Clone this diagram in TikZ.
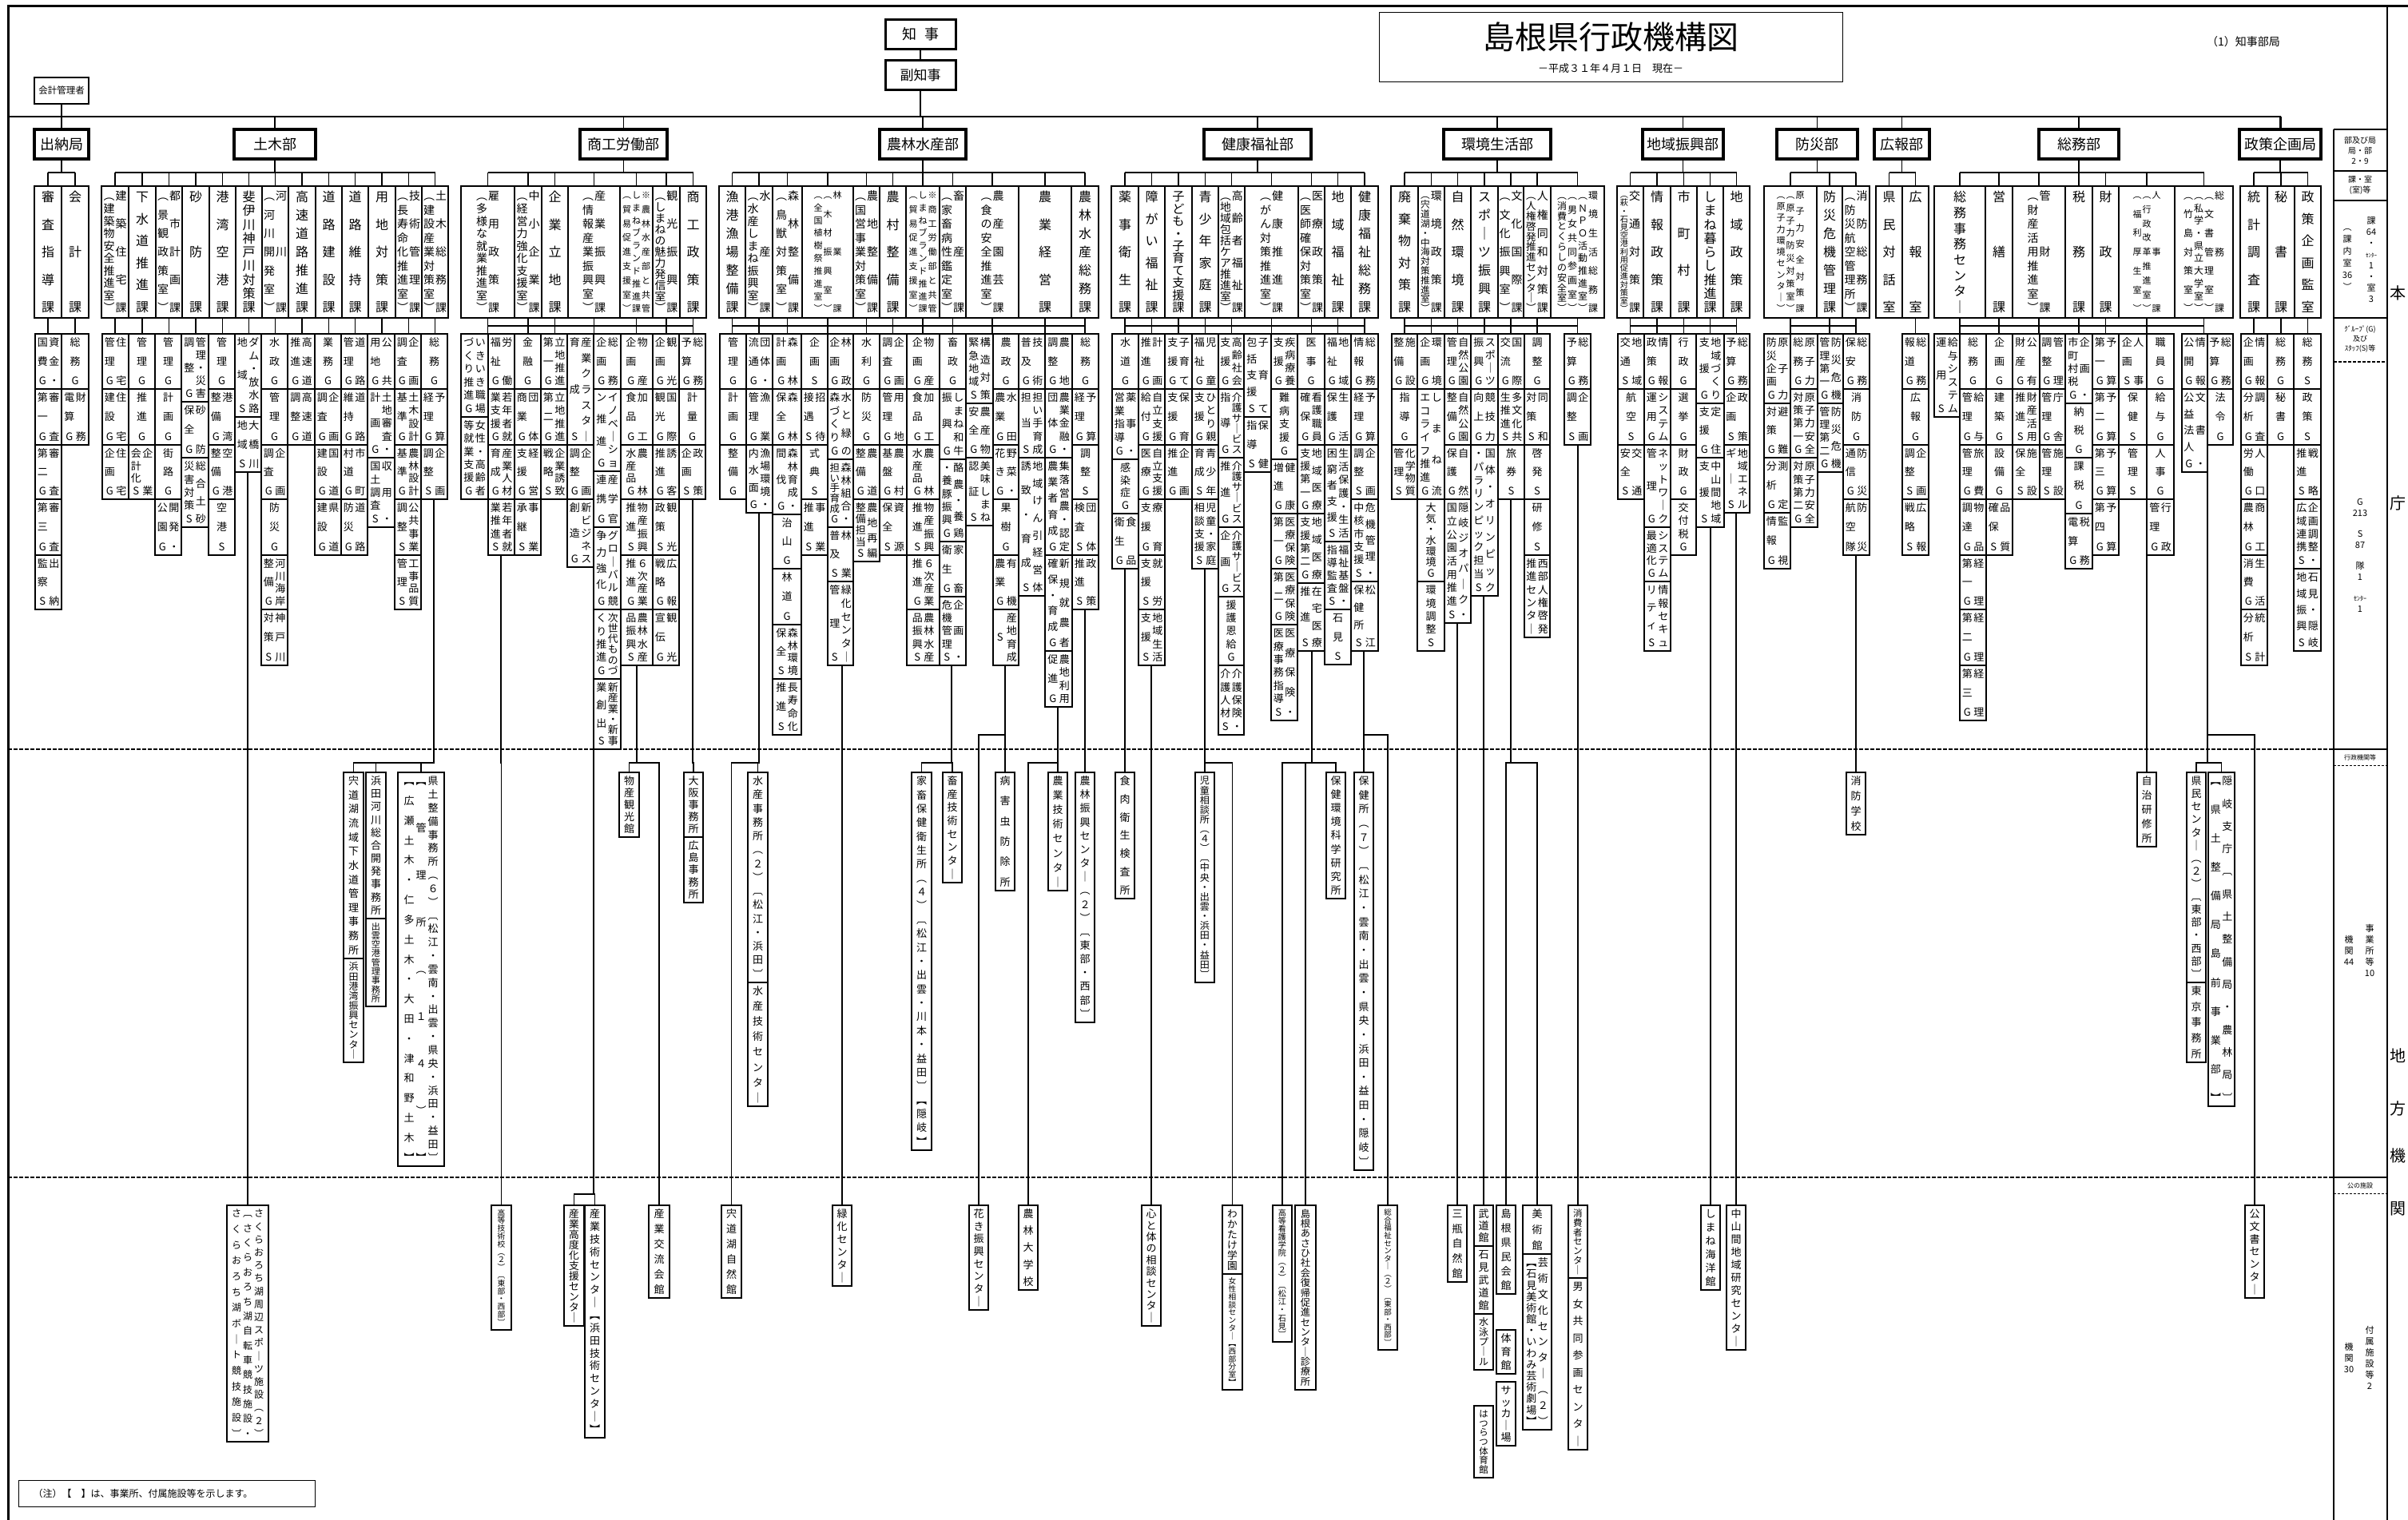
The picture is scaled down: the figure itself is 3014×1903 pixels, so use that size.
\documentclass[tikz,border=0pt]{standalone}
\usepackage{fontspec}
\setmainfont{Noto Sans CJK JP}
\newcount\vcn
\newdimen\vcH
\newdimen\vfs
\def\vsE{vsE-end-marker}
\def\vcx#1{\ifx\vsE#1\else\advance\vcn1 \expandafter\vcx\fi}
\def\vdx#1{\ifx\vsE#1\else\vdsep\hbox to\vfs{\hss\vrule height.88\vfs depth.12\vfs width0pt\relax#1\hss}\let\vdsep\vfill\expandafter\vdx\fi}
\newcommand\vcol[2]{%
 \vcn=0 \vcx#2\vsE
 \ifnum\vcn<1 \vcn=1 \fi
 \vfs=\dimexpr\vcH/\vcn\relax
 \ifdim\vfs>#1pt \vfs=#1pt\fi
 \vbox to\vcH{\offinterlineskip\fontsize{\the\vfs}{\the\vfs}\selectfont
   \ifnum\vcn=1 \vfil\fi
   \let\vdsep\relax\vdx#2\vsE
   \ifnum\vcn=1 \vfil\fi}}
\newcommand\gtwo[3]{\hbox{\ifx\relax#3\relax\else\vcol{#1}{#3}\kern1.5pt\fi\vcol{#1}{#2}}}
\newcommand\kA[1]{\vcol{16}{#1}}
\newcommand\kB[2]{\hbox{\vcol{14}{#2}\kern1pt\vcol{14}{#1}}}
\newcommand\kC[3]{\hbox{\vcol{11}{#3}\kern1pt\vcol{11}{#2}\kern1pt\vcol{11}{#1}}}
\newcommand\kD[4]{\hbox{\vcol{12}{#4}\kern1pt\vcol{12}{#3}\kern1pt\vcol{12}{#2}\kern1pt\vcol{12}{#1}}}
\newcounter{gn}
\newcommand\gcol[2]{\def\gxa{#1}\def\gxb{#2}}
\newcommand\grpx[3]{\stepcounter{gn}\node[gbox,minimum width={\gxb-\gxa},minimum height={#2-#1}] (g\thegn) at ({(\gxa+\gxb)/2},{(#1+#2)/2}) {\vcH=\dimexpr#2pt-#1pt-10pt\relax#3};}
\newcommand\grp[4]{\grpx{#1}{#2}{\gtwo{13}{#3}{#4}}}
\newcommand\kbx[4]{\node[kbox,minimum width={#3-#2}] (#1) at ({(#2+#3)/2},315.5) {\vcH=152pt\relax#4};}
\newcommand\secc[4]{\draw[ln] (#1,199) -- (#1,216); \draw[ln] (#2,216) -- (#3,216); \foreach \x in {#4} {\draw[ln] (\x,216) -- (\x,233);}}
\newcommand\grc[3]{\draw[ln] (#1,408) -- (#2,408); \foreach \x in {#3} {\draw[ln] (\x,398) -- (\x,418);}}
\newcommand\lk[5]{\draw[ln] (#1,#2) |- (#4,#3) -- (#4,#5);}
\begin{document}
\begin{tikzpicture}[x=1pt,y=-1pt,
  ln/.style={line width=1.4pt},
  gbox/.style={draw,line width=1.5pt,inner sep=0pt,rectangle},
  kbox/.style={draw,line width=1.8pt,inner sep=0pt,rectangle,minimum height=165pt},
  dbox/.style={draw,line width=3.5pt,inner sep=0pt,rectangle,minimum height=37pt,font=\fontsize{18}{18}\selectfont},
  sb/.style={inner sep=0pt,align=center,font=\fontsize{10}{13}\selectfont}]
\useasboundingbox (0,0) rectangle (3014,1903);
% frame
\draw[line width=3pt] (10,1903) -- (10,7) -- (3014,7);
\draw[line width=2.5pt] (2988,7) -- (2988,1903);
% top
\node[draw,line width=3pt,minimum width=88pt,minimum height=37pt,inner sep=0pt,font=\fontsize{18}{18}\selectfont] (chiji) at (1152,43) {知\hspace{10pt}事};
\node[draw,line width=3pt,minimum width=88pt,minimum height=37pt,inner sep=0pt,font=\fontsize{17}{17}\selectfont] (fuku) at (1152,94) {副知事};
\draw[ln] (chiji.south) -- (fuku.north);
\draw[line width=1.6pt] (fuku.south) -- (1152,146);
\node[draw,line width=1pt,minimum width=580pt,minimum height=87pt] (tbox) at (2016,58.5) {};
\node[font=\fontsize{40}{40}\selectfont] (title) at (2016,46) {島根県行政機構図};
\node[font=\fontsize{13}{13}\selectfont] (subt) at (2016,86) {－平成３１年４月１日　現在－};
\node[font=\fontsize{14}{14}\selectfont] (bukyoku) at (2808,52) {（1）知事部局};
\node[draw,line width=1.8pt,minimum width=68pt,minimum height=33pt,inner sep=0pt,font=\fontsize{11.5}{12}\selectfont] (kaikei) at (77,113.5) {会計管理者};
\draw[line width=2.2pt] (10,146) -- (2855,146);
\draw[ln] (kaikei.south) -- (77,162);
% departments
\node[dbox,minimum width=68pt] (d0) at (77,180.5) {出納局};
\node[dbox,minimum width=102pt] (d1) at (344,180.5) {土木部};
\node[dbox,minimum width=109pt] (d2) at (780.5,180.5) {商工労働部};
\node[dbox,minimum width=108pt] (d3) at (1155,180.5) {農林水産部};
\node[dbox,minimum width=134pt] (d4) at (1574,180.5) {健康福祉部};
\node[dbox,minimum width=134pt] (d5) at (1874,180.5) {環境生活部};
\node[dbox,minimum width=101pt] (d6) at (2106.5,180.5) {地域振興部};
\node[dbox,minimum width=101pt] (d7) at (2274.5,180.5) {防災部};
\node[dbox,minimum width=69pt] (d8) at (2380.5,180.5) {広報部};
\node[dbox,minimum width=100pt] (d9) at (2602,180.5) {総務部};
\node[dbox,minimum width=102pt] (d10) at (2854,180.5) {政策企画局};
\foreach \x in {344,780.5,1155,1574,1874,2106.5,2274.5,2380.5,2602,2854} {\draw[ln] (\x,146) -- (\x,162);}
\draw[ln] (2855,146) -- (2855,162);
% section connectors
\secc{77}{60}{94}{60,94}
\secc{344}{144}{544.5}{144,178,211.5,245,278.5,311.5,344.5,378,411.5,444.5,478,511.5,544.5}
\secc{780.5}{610.5}{867.5}{610.5,661,694.5,743.5,796.5,834,867.5}
\secc{1155}{916.5}{1358}{916.5,950,985.5,1036,1084.5,1117.5,1155,1192.5,1242,1308,1358}
\secc{1574}{1408}{1708}{1408,1441.5,1475,1508.5,1541.5,1591.5,1641.5,1674.5,1708}
\secc{1874}{1758}{1974.5}{1758,1791.5,1824.5,1858,1891,1924,1974.5}
\secc{2106.5}{2040.5}{2173.5}{2040.5,2074,2107.5,2140.5,2173.5}
\secc{2274.5}{2241}{2323}{2241,2290,2323}
\secc{2380.5}{2364.5}{2397.5}{2364.5,2397.5}
\secc{2602}{2453}{2758.5}{2453,2502,2552,2602,2635.5,2687,2758.5}
\secc{2854}{2821}{2888.5}{2821,2855,2888.5}
% sections
\kbx{k1}{43}{77}{\kA{審査指導課}}
\kbx{k2}{77}{111}{\kA{会計課}}
\kbx{k3}{127}{161}{\kB{建築住宅課}{︵建築物安全推進室︶}}
\kbx{k4}{161}{195}{\kA{下水道推進課}}
\kbx{k5}{195}{228}{\kB{都市計画課}{︵景観政策室︶}}
\kbx{k6}{228}{262}{\kA{砂防課}}
\kbx{k7}{262}{295}{\kA{港湾空港課}}
\kbx{k8}{295}{328}{\kA{斐伊川神戸川対策課}}
\kbx{k9}{328}{361}{\kB{河川課}{︵河川開発室︶}}
\kbx{k10}{361}{395}{\kA{高速道路推進課}}
\kbx{k11}{395}{428}{\kA{道路建設課}}
\kbx{k12}{428}{461}{\kA{道路維持課}}
\kbx{k13}{461}{495}{\kA{用地対策課}}
\kbx{k14}{495}{528}{\kB{技術管理課}{︵長寿命化推進室︶}}
\kbx{k15}{528}{561}{\kB{土木総務課}{︵建設産業対策室︶}}
\kbx{k16}{577}{644}{\kB{雇用政策課}{︵多様な就業推進室︶}}
\kbx{k17}{644}{678}{\kB{中小企業課}{︵経営力強化支援室︶}}
\kbx{k18}{678}{711}{\kA{企業立地課}}
\kbx{k19}{711}{776}{\kB{産業振興課}{︵情報産業振興室︶}}
\kbx{k20}{776}{817}{\kC{※農林水産部と共管}{しまねブランド推進課}{︵貿易促進支援室︶}}
\kbx{k21}{817}{851}{\kB{観光振興課}{︵しまねの魅力発信室︶}}
\kbx{k22}{851}{884}{\kA{商工政策課}}
\kbx{k23}{900}{933}{\kA{漁港漁場整備課}}
\kbx{k24}{933}{967}{\kB{水産課}{︵水産しまね振興室︶}}
\kbx{k25}{967}{1004}{\kB{森林整備課}{︵鳥獣対策室︶}}
\kbx{k26}{1004}{1068}{\kC{林業課}{︵木材振興室︶}{︵全国植樹祭推進室︶}}
\kbx{k27}{1068}{1101}{\kB{農地整備課}{︵国営事業対策室︶}}
\kbx{k28}{1101}{1134}{\kA{農村整備課}}
\kbx{k29}{1134}{1176}{\kC{※商工労働部と共管}{しまねブランド推進課}{︵貿易促進支援室︶}}
\kbx{k30}{1176}{1209}{\kB{畜産課}{︵家畜病性鑑定室︶}}
\kbx{k31}{1209}{1275}{\kB{農産園芸課}{︵食の安全推進室︶}}
\kbx{k32}{1275}{1341}{\kA{農業経営課}}
\kbx{k33}{1341}{1375}{\kA{農林水産総務課}}
\kbx{k34}{1391}{1425}{\kA{薬事衛生課}}
\kbx{k35}{1425}{1458}{\kA{障がい福祉課}}
\kbx{k36}{1458}{1492}{\kA{子ども・子育て支援課}}
\kbx{k37}{1492}{1525}{\kA{青少年家庭課}}
\kbx{k38}{1525}{1558}{\kB{高齢者福祉課}{︵地域包括ケア推進室︶}}
\kbx{k39}{1558}{1625}{\kB{健康推進課}{︵がん対策推進室︶}}
\kbx{k40}{1625}{1658}{\kB{医療政策課}{︵医師確保対策室︶}}
\kbx{k41}{1658}{1691}{\kA{地域福祉課}}
\kbx{k42}{1691}{1725}{\kA{健康福祉総務課}}
\kbx{k43}{1741}{1775}{\kA{廃棄物対策課}}
\kbx{k44}{1775}{1808}{\kB{環境政策課}{︵宍道湖・中海対策推進室︶}}
\kbx{k45}{1808}{1841}{\kA{自然環境課}}
\kbx{k46}{1841}{1875}{\kA{スポ｜ツ振興課}}
\kbx{k47}{1875}{1907}{\kB{文化国際課}{︵文化振興室︶}}
\kbx{k48}{1907}{1941}{\kB{人権同和対策課}{︵人権啓発推進センタ｜︶}}
\kbx{k49}{1941}{2008}{\kD{環境生活総務課}{︵ＮＰＯ活動推進室︶}{︵男女共同参画室︶}{︵消費とくらしの安全室︶}}
\kbx{k50}{2024}{2057}{\kB{交通対策課}{︵萩・石見空港利用促進対策室︶}}
\kbx{k51}{2057}{2091}{\kA{情報政策課}}
\kbx{k52}{2091}{2124}{\kA{市町村課}}
\kbx{k53}{2124}{2157}{\kA{しまね暮らし推進課}}
\kbx{k54}{2157}{2190}{\kA{地域政策課}}
\kbx{k55}{2208}{2274}{\kC{原子力安全対策課}{︵原子力防災対策室︶}{︵原子力環境センタ｜︶}}
\kbx{k56}{2274}{2306}{\kA{防災危機管理課}}
\kbx{k57}{2306}{2340}{\kB{消防総務課}{︵防災航空管理所︶}}
\kbx{k58}{2348}{2381}{\kA{県民対話室}}
\kbx{k59}{2381}{2414}{\kA{広報室}}
\kbx{k60}{2421}{2485}{\kA{総務事務センタ｜}}
\kbx{k61}{2485}{2519}{\kA{営繕課}}
\kbx{k62}{2519}{2585}{\kB{管財課}{︵財産活用推進室︶}}
\kbx{k63}{2585}{2619}{\kA{税務課}}
\kbx{k64}{2619}{2652}{\kA{財政課}}
\kbx{k65}{2652}{2722}{\kC{人事課}{︵行政改革推進室︶}{︵福利厚生室︶}}
\kbx{k66}{2722}{2795}{\kD{総務課}{︵文書管理室︶}{︵私学・県立大学室︶}{︵竹島対策室︶}}
\kbx{k67}{2804}{2838}{\kA{統計調査課}}
\kbx{k68}{2838}{2872}{\kA{秘書課}}
\kbx{k69}{2872}{2905}{\kA{政策企画監室}}
% group connectors
\grc{60}{60}{60,94}
\grc{144}{144}{144,178,211.5,245,278.5,311.5,344.5,378,411.5,444.5,478,511.5,544.5}
\grc{610.5}{867.5}{610.5,661,694.5,743.5,796.5,834,867.5}
\grc{916.5}{1358}{916.5,950,985.5,1036,1084.5,1117.5,1155,1192.5,1242,1308,1358}
\grc{1408}{1708}{1408,1441.5,1475,1508.5,1541.5,1591.5,1641.5,1674.5,1708}
\grc{1758}{1974.5}{1758,1791.5,1824.5,1858,1891,1924,1974.5}
\grc{2040.5}{2173.5}{2040.5,2074,2107.5,2140.5,2173.5}
\grc{2241}{2323}{2241,2290,2323}
\grc{2397.5}{2397.5}{2397.5}
\grc{2453}{2758.5}{2453,2502,2552,2602,2635.5,2687,2758.5}
\grc{2821}{2821}{2821,2855,2888.5}
% groups: 出納局
\gcol{44}{77}
\grp{418}{487}{資金・}{国費G}
\grp{487}{557}{審査}{第一G}
\grp{557}{625}{審査}{第二G}
\grp{625}{695}{審査}{第三G}
\grp{695}{763}{出納}{監察S}
\gcol{77}{111}
\grp{418}{487}{総務G}{}
\grp{487}{557}{財務}{電算G}
% 土木部
\gcol{128}{161}
\grp{418}{487}{住宅}{管理G}
\grp{487}{557}{住宅}{建設G}
\grp{557}{625}{住宅}{企画G}
\gcol{161}{194}
\grp{418}{487}{管理G}{}
\grp{487}{557}{推進G}{}
\grp{557}{625}{企業}{会計化S}
\gcol{194}{227}
\grp{418}{487}{管理G}{}
\grp{487}{557}{計画G}{}
\grp{557}{625}{街路G}{}
\grp{625}{695}{開発・}{公園G}
\gcol{227}{261}
\grp{418}{503}{管理・災害}{調整G}
\grp{503}{573}{砂防}{保全G}
\grp{573}{660}{総合土砂}{災害対策S}
\gcol{261}{294}
\grp{418}{487}{管理G}{}
\grp{487}{557}{港湾}{整備G}
\grp{557}{625}{空港}{整備G}
\grp{625}{695}{空港S}{}
\gcol{294}{327}
\grp{418}{522}{ダム・放水路}{地域S}
\grp{522}{591}{大橋川}{地域S}
\gcol{327}{360}
\grp{418}{487}{水政G}{}
\grp{487}{557}{管理G}{}
\grp{557}{625}{企画}{調査G}
\grp{625}{695}{防災G}{}
\grp{695}{763}{河川海岸}{整備G}
\grp{763}{833}{神戸川}{対策S}
\gcol{360}{394}
\grp{418}{487}{高速道}{推進G}
\grp{487}{557}{高速道}{調整G}
\gcol{394}{427}
\grp{418}{487}{業務G}{}
\grp{487}{557}{企画}{調査G}
\grp{557}{625}{国道}{建設G}
\grp{625}{695}{県道}{建設G}
\gcol{427}{460}
\grp{418}{487}{道路}{管理G}
\grp{487}{557}{道路}{維持G}
\grp{557}{625}{市町}{村道G}
\grp{625}{695}{道路}{防災G}
\gcol{460}{494}
\grp{418}{487}{公共}{用地G}
\grp{487}{573}{土地審査・}{計画G}
\grp{573}{660}{収用・}{国土調査S}
\gcol{494}{527}
\grp{418}{487}{企画}{調査G}
\grp{487}{557}{土木設計}{基準G}
\grp{557}{625}{農林設計}{基準G}
\grp{625}{695}{公共事業}{調整S}
\grp{695}{763}{工事品質}{管理S}
\gcol{527}{560}
\grp{418}{487}{総務G}{}
\grp{487}{557}{予算}{経理G}
\grp{557}{625}{企画}{調整S}
% 商工労働部
\gcol{577}{611}
\grp{418}{522}{いきいき職場}{づくり推進G}
\grp{522}{625}{女性・高齢者}{等就業支援G}
\gcol{611}{644}
\grp{418}{487}{労働}{福祉G}
\grp{487}{557}{若年者就}{業支援G}
\grp{557}{625}{産業人材}{育成G}
\grp{625}{695}{若年者就}{業推進S}
\gcol{644}{677}
\grp{418}{487}{金融G}{}
\grp{487}{557}{団体}{商業G}
\grp{557}{625}{経営}{支援G}
\grp{625}{695}{事業}{承継S}
\gcol{677}{710}
\grp{418}{487}{立地推進}{第一G}
\grp{487}{557}{立地推進}{第二G}
\grp{557}{625}{企業誘致}{戦略S}
\gcol{710}{743}
\grp{418}{557}{産業クラスタ｜}{育成S}
\grp{557}{625}{企画}{調整G}
\grp{625}{710}{新ビジネス}{創造G}
\gcol{743}{777}
\grp{418}{487}{総務}{企画G}
\grp{487}{590}{イノベ｜ショ}{ン推進G}
\grp{590}{660}{産学官}{連携G}
\grp{660}{763}{グロ｜バル競}{争力強化G}
\grp{763}{850}{次世代ものづ}{くり推進G}
\grp{850}{938}{新産業・新事}{業創出S}
\gcol{777}{817}
\grp{418}{487}{物産}{企画G}
\grp{487}{557}{加工}{食品G}
\grp{557}{625}{農林}{水産品G}
\grp{625}{695}{物産振興}{推進S}
\grp{695}{763}{６次産業}{推進G}
\grp{763}{833}{農林水産}{品振興S}
\gcol{817}{850}
\grp{418}{487}{観光}{企画G}
\grp{487}{557}{国際}{観光G}
\grp{557}{625}{誘客}{推進G}
\grp{625}{695}{観光}{政策S}
\grp{695}{763}{広報}{戦略G}
\grp{763}{833}{観光}{宣伝G}
\gcol{850}{883}
\grp{418}{487}{総務}{予算G}
\grp{487}{557}{計量G}{}
\grp{557}{625}{政策}{企画S}
% 農林水産部
\gcol{901}{934}
\grp{418}{487}{管理G}{}
\grp{487}{557}{計画G}{}
\grp{557}{625}{整備G}{}
\gcol{934}{967}
\grp{418}{487}{団体・}{流通G}
\grp{487}{557}{漁業}{管理G}
\grp{557}{642}{漁場環境・}{内水面G}
\gcol{967}{1003}
\grp{418}{487}{森林}{計画G}
\grp{487}{557}{森林}{保全G}
\grp{557}{644}{森林育成・}{間伐G}
\grp{644}{712}{治山G}{}
\grp{712}{782}{林道G}{}
\grp{782}{850}{森林環境}{保全S}
\grp{850}{920}{長寿命化}{推進S}
\gcol{1003}{1036}
\grp{418}{487}{企画S}{}
\grp{487}{557}{招待}{接遇S}
\grp{557}{625}{式典S}{}
\grp{625}{695}{事業}{推進S}
\gcol{1036}{1068}
\grp{418}{487}{林政}{企画G}
\grp{487}{575}{水と緑の}{森づくりG}
\grp{575}{660}{森林組合・}{担い手育成G}
\grp{660}{728}{林業}{普及S}
\grp{728}{833}{緑化センタ｜}{管理S}
\gcol{1068}{1101}
\grp{418}{487}{水利G}{}
\grp{487}{557}{防災G}{}
\grp{557}{625}{農道}{整備G}
\grp{625}{703}{農地再編}{整備担当S}
\gcol{1101}{1135}
\grp{418}{487}{企画}{調査G}
\grp{487}{557}{用地}{管理G}
\grp{557}{625}{農村}{基盤G}
\grp{625}{695}{資源}{保全S}
\gcol{1135}{1176}
\grp{418}{487}{物産}{企画G}
\grp{487}{557}{加工}{食品G}
\grp{557}{625}{農林}{水産品G}
\grp{625}{695}{物産振興}{推進S}
\grp{695}{763}{６次産業}{推進G}
\grp{763}{833}{農林水産}{品振興S}
\gcol{1176}{1209}
\grp{418}{487}{畜政G}{}
\grp{487}{575}{しまね和牛}{振興G}
\grp{575}{678}{酪農・養鶏}{・養豚振興G}
\grp{678}{747}{家畜}{衛生G}
\grp{747}{833}{企画・}{危機管理S}
\gcol{1209}{1243}
\grp{418}{505}{構造対策}{緊急地域S}
\grp{505}{573}{農産物}{安全G}
\grp{573}{658}{美味しまね}{認証S}
\gcol{1243}{1275}
\grp{418}{487}{農政G}{}
\grp{487}{557}{水田}{農業G}
\grp{557}{625}{野菜・}{花きG}
\grp{625}{695}{果樹G}{}
\grp{695}{763}{有機}{農業G}
\grp{763}{833}{産地育成}{S}
\gcol{1275}{1308}
\grp{418}{487}{技術}{普及G}
\grp{487}{573}{担い手育成}{担当S}
\grp{573}{746}{地域けん引経営体}{誘致・育成S}
\gcol{1308}{1342}
\grp{418}{487}{農地}{調整G}
\grp{487}{573}{農業金融・}{団体G}
\grp{573}{695}{集落営農・認定}{農業者育成G}
\grp{695}{815}{新規就農者}{確保・育成G}
\grp{815}{885}{農地利用}{促進G}
\gcol{1342}{1375}
\grp{418}{487}{総務G}{}
\grp{487}{557}{予算}{経理G}
\grp{557}{625}{調整S}{}
\grp{625}{695}{団体}{検査S}
\grp{695}{763}{政策}{推進S}
% 健康福祉部
\gcol{1392}{1425}
\grp{418}{487}{水道G}{}
\grp{487}{575}{薬事・}{営業指導G}
\grp{575}{643}{感染症G}{}
\grp{643}{712}{食品}{衛生G}
\gcol{1425}{1458}
\grp{418}{487}{計画}{推進G}
\grp{487}{557}{自立支援}{給付G}
\grp{557}{625}{自立支援}{医療G}
\grp{625}{695}{療育}{支援G}
\grp{695}{763}{就労}{支援S}
\grp{763}{833}{地域生活}{支援S}
\gcol{1458}{1492}
\grp{418}{487}{子育て}{支援G}
\grp{487}{557}{保育}{支援G}
\grp{557}{625}{企画}{推進G}
\gcol{1492}{1525}
\grp{418}{487}{児童}{福祉G}
\grp{487}{557}{ひとり親}{支援G}
\grp{557}{625}{青少年}{育成S}
\grp{625}{712}{児童・家庭}{相談支援S}
\gcol{1525}{1557}
\grp{418}{487}{高齢社会}{支援G}
\grp{487}{573}{介護サ｜ビス}{指導G}
\grp{573}{660}{介護サ｜ビス}{推進G}
\grp{660}{747}{介護サ｜ビス}{企画G}
\grp{747}{833}{援護恩給G}{}
\grp{833}{920}{介護保険・}{介護人材S}
\gcol{1557}{1591}
\grp{418}{522}{子育て}{包括支援S}
\grp{522}{591}{保健}{指導S}
\gcol{1591}{1624}
\grp{418}{487}{疾病療養}{支援G}
\grp{487}{575}{難病支援G}{}
\grp{575}{643}{健康}{増進G}
\grp{643}{712}{医療保険}{第一G}
\grp{712}{782}{医療保険}{第二G}
\grp{782}{902}{医療保険・}{医療事務指導S}
\gcol{1624}{1658}
\grp{418}{487}{医事G}{}
\grp{487}{557}{看護職員}{確保G}
\grp{557}{643}{地域医療}{支援第一G}
\grp{643}{730}{地域医療}{支援第二G}
\grp{730}{815}{在宅医療}{推進S}
\gcol{1658}{1691}
\grp{418}{487}{地域}{福祉G}
\grp{487}{557}{生活}{保護G}
\grp{557}{678}{生活保護・生活}{困窮者支援S}
\grp{678}{763}{福祉基盤・}{指導監査S}
\grp{763}{832}{石見S}{}
\gcol{1691}{1725}
\grp{418}{487}{総務}{情報G}
\grp{487}{557}{予算}{経理G}
\grp{557}{625}{企画}{調整S}
\grp{625}{728}{危機管理・}{中核市支援S}
\grp{728}{815}{松江}{保健所S}
% 環境生活部
\gcol{1742}{1774}
\grp{418}{487}{施設}{整備G}
\grp{487}{557}{指導G}{}
\grp{557}{625}{化学物質}{管理S}
\gcol{1774}{1808}
\grp{418}{487}{環境}{企画G}
\grp{487}{625}{しまね流}{エコライフ推進G}
\grp{625}{728}{大気・水環境G}{}
\grp{728}{815}{環境調整S}{}
\gcol{1808}{1841}
\grp{418}{487}{自然公園}{管理G}
\grp{487}{557}{自然公園}{整備G}
\grp{557}{625}{自然}{保護G}
\grp{625}{780}{隠岐ジオパ｜ク・}{国立公園活用推進S}
\gcol{1841}{1875}
\grp{418}{487}{スポ｜ツ}{振興G}
\grp{487}{557}{競技力}{向上G}
\grp{557}{746}{国体・オリンピック}{・パラリンピック担当S}
\gcol{1875}{1908}
\grp{418}{487}{国際}{交流G}
\grp{487}{557}{多文化共}{生推進S}
\grp{557}{625}{旅券S}{}
\gcol{1908}{1940}
\grp{418}{487}{調整G}{}
\grp{487}{557}{同和}{対策S}
\grp{557}{625}{啓発S}{}
\grp{625}{695}{研修S}{}
\grp{695}{798}{西部人権啓発}{推進センタ｜}
\gcol{1958}{1991}
\grp{418}{487}{総務}{予算G}
\grp{487}{557}{企画}{調整S}
% 地域振興部
\gcol{2025}{2058}
\grp{418}{487}{地域}{交通S}
\grp{487}{557}{航空S}{}
\grp{557}{625}{交通}{安全S}
\gcol{2058}{2091}
\grp{418}{487}{情報}{政策G}
\grp{487}{557}{システム}{運用G}
\grp{557}{660}{ネットワ｜ク}{管理G}
\grp{660}{728}{システム}{最適化G}
\grp{728}{815}{情報セキュ}{リティS}
\gcol{2091}{2123}
\grp{418}{487}{行政G}{}
\grp{487}{557}{選挙G}{}
\grp{557}{625}{財政G}{}
\grp{625}{695}{交付税G}{}
\gcol{2123}{2158}
\grp{418}{505}{地域づくり}{支援G}
\grp{505}{573}{定住}{支援G}
\grp{573}{660}{中山間地域}{支援S}
\gcol{2158}{2190}
\grp{418}{487}{総務}{予算G}
\grp{487}{557}{政策}{企画S}
\grp{557}{642}{地域エネル}{ギ｜S}
% 防災部
\gcol{2208}{2241}
\grp{418}{505}{原子力}{防災企画G}
\grp{505}{573}{避難}{対策G}
\grp{573}{642}{測定}{分析G}
\grp{642}{712}{監視}{情報G}
\gcol{2241}{2275}
\grp{418}{487}{原子力}{総務G}
\grp{487}{573}{原子力安全}{対策第一G}
\grp{573}{660}{原子力安全}{対策第二G}
\gcol{2275}{2307}
\grp{418}{505}{防災危機}{管理第一G}
\grp{505}{591}{防災危機}{管理第二G}
\gcol{2307}{2340}
\grp{418}{487}{総務}{保安G}
\grp{487}{557}{消防G}{}
\grp{557}{625}{防災}{通信G}
\grp{625}{695}{防災}{航空隊}
% 広報部
\gcol{2381}{2414}
\grp{418}{487}{総務}{報道G}
\grp{487}{557}{広報G}{}
\grp{557}{625}{企画}{調整S}
\grp{625}{695}{広報}{戦略S}
% 総務部
\gcol{2421}{2453}
\grp{418}{522}{給与システム}{運用S}
\gcol{2453}{2486}
\grp{418}{487}{総務G}{}
\grp{487}{557}{給与}{管理G}
\grp{557}{625}{旅費}{管理G}
\grp{625}{695}{物品}{調達G}
\grp{695}{763}{経理}{第一G}
\grp{763}{833}{経理}{第二G}
\grp{833}{902}{経理}{第三G}
\gcol{2486}{2519}
\grp{418}{487}{企画G}{}
\grp{487}{557}{建築G}{}
\grp{557}{625}{設備G}{}
\grp{625}{695}{品質}{確保S}
\gcol{2519}{2553}
\grp{418}{487}{公有}{財産G}
\grp{487}{557}{財産活用}{推進S}
\grp{557}{625}{施設}{保全S}
\gcol{2553}{2585}
\grp{418}{487}{管理}{調整G}
\grp{487}{557}{庁舎}{管理G}
\grp{557}{625}{施設}{管理S}
\gcol{2585}{2619}
\grp{418}{505}{企画・}{市町村税G}
\grp{505}{573}{納税G}{}
\grp{573}{643}{課税G}{}
\grp{643}{712}{税務}{電算G}
\gcol{2619}{2652}
\grp{418}{487}{予算}{第一G}
\grp{487}{557}{予算}{第二G}
\grp{557}{625}{予算}{第三G}
\grp{625}{695}{予算}{第四G}
\gcol{2652}{2687}
\grp{418}{487}{人事}{企画S}
\grp{487}{557}{保健S}{}
\grp{557}{625}{管理S}{}
\gcol{2687}{2721}
\grp{418}{487}{職員G}{}
\grp{487}{557}{給与G}{}
\grp{557}{625}{人事G}{}
\grp{625}{695}{行政}{管理G}
\gcol{2731}{2763}
\grp{418}{487}{情報}{公開G}
\grp{487}{591}{文書・}{公益法人G}
\gcol{2763}{2795}
\grp{418}{487}{総務}{予算G}
\grp{487}{557}{法令G}{}
% 政策企画局
\gcol{2805}{2838}
\grp{418}{487}{情報}{企画G}
\grp{487}{557}{調査}{分析G}
\grp{557}{625}{人口}{労働G}
\grp{625}{695}{商工}{農林G}
\grp{695}{763}{生活}{消費G}
\grp{763}{833}{統計}{分析S}
\gcol{2838}{2871}
\grp{418}{487}{総務G}{}
\grp{487}{557}{秘書G}{}
\gcol{2871}{2905}
\grp{418}{487}{総務S}{}
\grp{487}{557}{政策S}{}
\grp{557}{625}{戦略}{推進S}
\grp{625}{712}{企画調整・}{広域連携S}
\grp{712}{815}{石見・隠岐}{地域振興S}
% row separators
\draw[line width=1.5pt,dash pattern=on 5pt off 2pt] (10,938) -- (2921,938);
\draw[line width=1.5pt,dash pattern=on 5pt off 2pt] (10,1474) -- (2921,1474);
% lower connectors
\lk{543}{625}{955}{442.5}{967}
\lk{543}{625}{955}{470.5}{967}
\lk{543}{625}{955}{527}{967}
\lk{310}{591}{955}{310}{1509}
\lk{627}{695}{955}{627.5}{1509}
\lk{743}{938}{1495}{718.5}{1509}
\lk{743}{938}{1495}{744.5}{1509}
\lk{797}{833}{955}{787.5}{967}
\lk{797}{833}{955}{825}{1509}
\lk{867}{625}{955}{868}{967}
\lk{950}{642}{955}{948.5}{967}
\lk{950}{642}{955}{915.5}{1509}
\lk{1054}{833}{955}{1054}{1509}
\lk{1191}{833}{955}{1153.5}{967}
\lk{1191}{833}{955}{1192}{967}
\lk{1258}{833}{920}{1258}{967}
\lk{1258}{833}{920}{1225}{1509}
\lk{1324}{885}{955}{1324}{967}
\lk{1324}{885}{955}{1287}{1509}
\lk{1358}{763}{955}{1358}{967}
\lk{1408}{712}{955}{1408}{967}
\lk{1441}{833}{955}{1441}{1509}
\lk{1508}{712}{955}{1508}{967}
\lk{1508}{712}{955}{1542.5}{1509}
\lk{1642}{815}{955}{1672}{967}
\lk{1642}{815}{955}{1605}{1509}
\lk{1642}{815}{955}{1634}{1509}
\lk{1707}{815}{920}{1707}{967}
\lk{1707}{815}{920}{1737}{1509}
\lk{1824}{780}{955}{1824}{1509}
\lk{1857}{746}{955}{1857}{1509}
\lk{1891}{625}{955}{1885}{1509}
\lk{1891}{625}{955}{1924}{1509}
\lk{1975}{557}{955}{1975}{1509}
\lk{2141}{660}{955}{2141}{1509}
\lk{2173}{642}{955}{2173}{1509}
\lk{2323}{695}{955}{2323}{967}
\lk{2687}{695}{955}{2687}{967}
\lk{2763}{591}{955}{2749}{967}
\lk{2763}{591}{955}{2780.5}{967}
\lk{2763}{591}{920}{2822}{1509}
% regional offices
\gcol{430}{455}
\grp{967}{1200}{宍道湖流域下水道管理事務所}{}
\grp{1200}{1330}{浜田港湾振興センタ｜}{}
\gcol{458}{483}
\grp{967}{1150}{浜田河川総合開発事務所}{}
\grp{1150}{1260}{出雲空港管理事務所}{}
\gcol{498}{556}
\grpx{967}{1460}{\hbox{\vcol{13}{︻広瀬土木・仁多土木・大田・津和野土木︼}\kern2pt\vcol{13}{︻管理所︵１４︶︼}\kern2pt\vcol{13}{県土整備事務所︵６︶︹松江・雲南・出雲・県央・浜田・益田︺}}}
\gcol{775}{800}
\grp{967}{1048}{物産観光館}{}
\gcol{856}{880}
\grp{967}{1048}{大阪事務所}{}
\grp{1048}{1130}{広島事務所}{}
\gcol{936}{961}
\grp{967}{1230}{水産事務所︵２︶︹松江・浜田︺}{}
\grp{1230}{1385}{水産技術センタ｜}{}
\gcol{1141}{1166}
\grp{967}{1440}{家畜保健衛生所︵４︶︹松江・出雲・川本・益田︺︻隠岐︼}{}
\gcol{1180}{1204}
\grp{967}{1105}{畜産技術センタ｜}{}
\gcol{1246}{1270}
\grp{967}{1115}{病害虫防除所}{}
\gcol{1312}{1336}
\grp{967}{1115}{農業技術センタ｜}{}
\gcol{1346}{1370}
\grp{967}{1280}{農林振興センタ｜︵２︶︹東部・西部︺}{}
\gcol{1396}{1420}
\grp{967}{1125}{食肉衛生検査所}{}
\gcol{1496}{1520}
\grp{967}{1230}{児童相談所︵４︶︹中央・出雲・浜田・益田︺}{}
\gcol{1660}{1684}
\grp{967}{1125}{保健環境科学研究所}{}
\gcol{1695}{1719}
\grp{967}{1465}{保健所︵７︶︹松江・雲南・出雲・県央・浜田・益田・隠岐︺}{}
\gcol{2311}{2335}
\grp{967}{1045}{消防学校}{}
\gcol{2675}{2699}
\grp{967}{1060}{自治研修所}{}
\gcol{2737}{2761}
\grp{967}{1230}{県民センタ｜︵２︶︹東部・西部︺}{}
\grp{1230}{1330}{東京事務所}{}
\gcol{2764}{2797}
\grp{967}{1385}{隠岐支庁︹県土整備局・農林局︺}{︻県土整備局島前事業部︼}
% public facilities
\gcol{284}{336}
\grpx{1509}{1805}{\hbox{\vcol{12}{さくらおろち湖ボ｜ト競技施設︺}\kern2pt\vcol{12}{︹さくらおろち湖自転車競技施設・}\kern2pt\vcol{12}{さくらおろち湖周辺スポ｜ツ施設︵２︶}}}
\gcol{615}{640}
\grp{1509}{1665}{高等技術校︵２︶︹東部・西部︺}{}
\gcol{706}{731}
\grp{1509}{1660}{産業高度化支援センタ｜}{}
\gcol{732}{757}
\grp{1509}{1800}{産業技術センタ｜︻浜田技術センタ｜︼}{}
\gcol{812}{838}
\grp{1509}{1625}{産業交流会館}{}
\gcol{903}{928}
\grp{1509}{1625}{宍道湖自然館}{}
\gcol{1042}{1066}
\grp{1509}{1610}{緑化センタ｜}{}
\gcol{1213}{1237}
\grp{1509}{1640}{花き振興センタ｜}{}
\gcol{1275}{1299}
\grp{1509}{1615}{農林大学校}{}
\gcol{1429}{1453}
\grp{1509}{1660}{心と体の相談センタ｜}{}
\gcol{1530}{1555}
\grp{1509}{1595}{わかたけ学園}{}
\grp{1595}{1740}{女性相談センタ｜︻西部分室︼}{}
\gcol{1593}{1617}
\grp{1509}{1680}{高等看護学院︵２︶︹松江・石見︺}{}
\gcol{1621}{1647}
\grp{1509}{1740}{島根あさひ社会復帰促進センタ｜診療所}{}
\gcol{1725}{1749}
\grp{1509}{1690}{総合福祉センタ｜︵２︶︹東部・西部︺}{}
\gcol{1812}{1836}
\grp{1509}{1605}{三瓶自然館}{}
\gcol{1845}{1869}
\grp{1509}{1560}{武道館}{}
\grp{1560}{1645}{石見武道館}{}
\grp{1645}{1715}{水泳プ｜ル}{}
\grp{1760}{1850}{はつらつ体育館}{}
\gcol{1873}{1897}
\grp{1509}{1620}{島根県民会館}{}
\grp{1665}{1720}{体育館}{}
\grp{1730}{1810}{サッカ｜場}{}
\gcol{1906}{1942}
\grp{1509}{1570}{美術館}{}
\grp{1570}{1790}{芸術文化センタ｜︵２︶}{︻石見美術館・いわみ芸術劇場︼}
\gcol{1963}{1987}
\grp{1509}{1600}{消費者センタ｜}{}
\grp{1600}{1815}{男女共同参画センタ｜}{}
\gcol{2129}{2153}
\grp{1509}{1615}{しまね海洋館}{}
\gcol{2161}{2185}
\grp{1509}{1690}{中山間地域研究センタ｜}{}
\gcol{2810}{2834}
\grp{1509}{1625}{公文書センタ｜}{}
% note
\node[draw,line width=1pt,minimum width=371pt,minimum height=33pt,anchor=north west] (note) at (23,1853) {};
\node[anchor=west,font=\fontsize{12}{12}\selectfont] (notet) at (38,1869.5) {（注）【　】は、事業所、付属施設等を示します。};
% sidebar
\draw[ln] (2921,162) -- (2921,1903);
\draw[ln] (2921,162) -- (2988,162);
\foreach \yy in {214,251,398,938,1474} {\draw[ln] (2921,\yy) -- (2988,\yy);}
\draw[line width=1.5pt,dash pattern=on 4pt off 2pt] (2921,453) -- (2988,453);
\draw[line width=1pt,dash pattern=on 3pt off 2pt] (2921,958) -- (2988,958);
\draw[line width=1pt,dash pattern=on 3pt off 2pt] (2921,1494) -- (2988,1494);
\node[sb] (sb1) at (2954,188) {部及び局\\局・部\\2・9};
\node[sb] (sb2) at (2954,232) {課・室\\(室)等};
\node[sb,font=\fontsize{11}{15}\selectfont] (sb3) at (2938,325) {︵\\課\\内\\室\\36\\︶};
\node[sb,font=\fontsize{11}{14}\selectfont] (sb4) at (2968,325) {課\\64\\・\\{\fontsize{7}{8}\selectfont ｾﾝﾀｰ}\\1\\・\\室\\3};
\node[sb,font=\fontsize{9}{12}\selectfont] (sb5) at (2954,425) {ｸﾞﾙｰﾌﾟ(G)\\及び\\ｽﾀｯﾌ(S)等};
\node[sb,font=\fontsize{11}{14}\selectfont] (sb6) at (2954,695) {G\\213\\[12pt]S\\87\\[12pt]隊\\1\\[12pt]{\fontsize{8}{9}\selectfont ｾﾝﾀｰ}\\1};
\node[sb,font=\fontsize{8}{9}\selectfont] (sb7) at (2954,948) {行政機関等};
\node[sb,font=\fontsize{11}{14}\selectfont] (sb8) at (2940,1190) {機\\関\\44};
\node[sb,font=\fontsize{11}{14}\selectfont] (sb9) at (2966,1190) {事\\業\\所\\等\\10};
\node[sb,font=\fontsize{8}{9}\selectfont] (sb10) at (2954,1484) {公の施設};
\node[sb,font=\fontsize{11}{14}\selectfont] (sb11) at (2940,1700) {機\\関\\30};
\node[sb,font=\fontsize{11}{14}\selectfont] (sb12) at (2966,1700) {付\\属\\施\\設\\等\\2};
\node[font=\fontsize{20}{20}\selectfont] (hon) at (3001,367) {本};
\node[font=\fontsize{20}{20}\selectfont] (cho) at (3001,630) {庁};
\node[font=\fontsize{20}{20}\selectfont] (chi) at (3001,1322) {地};
\node[font=\fontsize{20}{20}\selectfont] (ho) at (3001,1388) {方};
\node[font=\fontsize{20}{20}\selectfont] (ki) at (3001,1447) {機};
\node[font=\fontsize{20}{20}\selectfont] (kan) at (3001,1513) {関};
\end{tikzpicture}
\end{document}
